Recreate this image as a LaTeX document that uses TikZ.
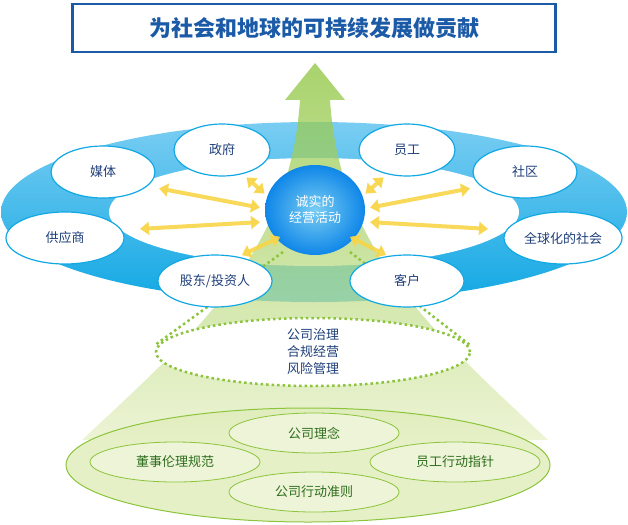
\documentclass[tikz,border=0pt]{standalone}
\usepackage{fontspec}
\setmainfont{Noto Sans CJK SC}
\usetikzlibrary{arrows.meta,shapes.geometric}
\definecolor{tblue}{HTML}{1B5AA6}
\definecolor{ringA}{HTML}{7ACDF2}
\definecolor{ringB}{HTML}{12A8E3}
\definecolor{ytxt}{HTML}{1F3F7A}
\definecolor{gdark}{HTML}{8CC43C}
\definecolor{glight}{HTML}{E6F0C6}
\definecolor{yel}{HTML}{F8D548}
\definecolor{gtxt}{HTML}{2F6E1E}
\tikzset{
 party/.style={ellipse,draw=ringB,line width=1.2pt,fill=white,minimum width=#1,minimum height=52pt,inner sep=0pt,text=ytxt,font=\fontsize{13}{13}\selectfont},
 party/.default=100pt,
 ya/.style={draw=yel,opacity=0.9,line width=4pt,{Triangle[length=9pt,width=13pt]}-{Triangle[length=9pt,width=13pt]},shorten <=2pt,shorten >=2pt},
 inner/.style={ellipse,draw=gdark,line width=0.8pt,fill=glight!70!white,minimum width=170pt,minimum height=40pt,inner sep=0pt,text=gtxt,font=\fontsize{13}{13}\selectfont},
 dots/.style={draw=gdark,line width=2.5pt,dash pattern=on 2.5pt off 3pt}
}
\begin{document}
\begin{tikzpicture}[x=1pt,y=-1pt]
\useasboundingbox (0,0) rectangle (628,524);
% title
\node[draw=tblue,line width=2.5pt,minimum width=483pt,minimum height=48pt,text=tblue,font=\bfseries\fontsize{22}{22}\selectfont] (title) at (314,28) {为社会和地球的可持续发展做贡献};
% bottom base ellipse
\fill[glight] (308,465) ellipse[x radius=242,y radius=57];
% ring
\shade[top color=ringA,bottom color=ringB] (314,212) ellipse[x radius=313,y radius=90];
\fill[white] (314,212) ellipse[x radius=205,y radius=54];
% green arrow
\shade[top color=gdark,bottom color=glight,opacity=0.75]
 (315,63) -- (345,100) -- (330,100) .. controls (340,250) and (430,330) .. (548,440)
 -- (82,440) .. controls (200,330) and (290,250) .. (300,100) -- (285,100) -- cycle;
\draw[gdark,line width=1pt] (308,465) ellipse[x radius=242,y radius=57];
% center
\shade[inner color=ringA,outer color=ringB!80!blue] (315,210) ellipse[x radius=50,y radius=45];
\node[text=white,align=center,font=\fontsize{13}{16}\selectfont] (c) at (315,210) {诚实的\\经营活动};
% dotted ellipse
\draw[dots] (283,252) -- (155,345);
\draw[dots] (350,252) -- (470,345);
\node[ellipse,dots,fill=white,minimum width=314pt,minimum height=68pt,inner sep=0pt,align=center,text=ytxt,font=\fontsize{13}{17}\selectfont] (gov) at (313,352) {公司治理\\合规经营\\风险管理};
% parties
\node[party=96pt] (p1) at (222,150) {政府};
\node[party=96pt] (p2) at (407,150) {员工};
\node[party=104pt] (p3) at (103,172) {媒体};
\node[party=104pt] (p4) at (525,172) {社区};
\node[party=118pt] (p5) at (65,238) {供应商};
\node[party=118pt] (p6) at (563,238) {全球化的社会};
\node[party=114pt] (p7) at (215,281) {股东/投资人};
\node[party=114pt] (p8) at (407,281) {客户};
% yellow arrows
\draw[ya] (266,195) -- (245,176);
\draw[ya] (364,195) -- (385,176);
\draw[ya] (262,208) -- (157,188);
\draw[ya] (368,208) -- (472,188);
\draw[ya] (262,222) -- (138,229);
\draw[ya] (368,222) -- (490,229);
\draw[ya] (282,236) -- (240,256);
\draw[ya] (348,236) -- (388,256);
% inner green
\node[inner] (i1) at (314,433) {公司理念};
\node[inner] (i2) at (175,462) {董事伦理规范};
\node[inner] (i3) at (455,462) {员工行动指针};
\node[inner] (i4) at (314,492) {公司行动准则};
\end{tikzpicture}
\end{document}
